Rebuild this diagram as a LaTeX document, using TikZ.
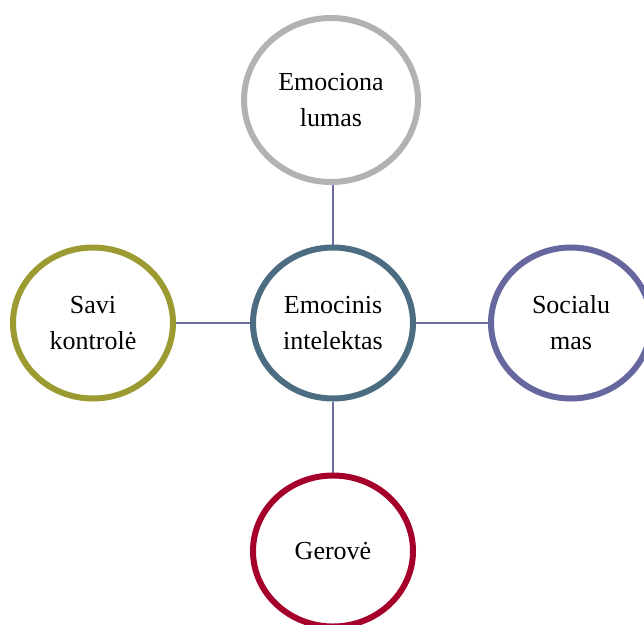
\documentclass[tikz,border=0pt]{standalone}
\usepackage{fontspec}
\setmainfont{Liberation Serif}
\usetikzlibrary{shapes.geometric,backgrounds}

\definecolor{ringgray}{HTML}{B2B2B2}
\definecolor{ringteal}{HTML}{4B6C81}
\definecolor{ringolive}{HTML}{9C9B32}
\definecolor{ringpurple}{HTML}{6767A0}
\definecolor{ringred}{HTML}{A5002A}
\definecolor{linkcol}{HTML}{6C6CA4}

\tikzset{
  ring/.style={ellipse, draw=#1, line width=6pt, fill=white,
    minimum width=160pt, minimum height=151pt, inner sep=0pt,
    align=center, font=\fontsize{26}{36}\selectfont},
  link/.style={draw=linkcol, line width=1.5pt}
}

\begin{document}
\begin{tikzpicture}[x=1pt, y=-1pt]
  \useasboundingbox (0,0) rectangle (644,624);

  \node[ring=ringteal]   (core)  at (333,323) {Emocinis\\intelektas};
  \node[ring=ringgray, minimum width=174pt, minimum height=164pt]
                         (emo)   at (331,100) {Emociona\\lumas};
  \node[ring=ringolive]  (self)  at (93,323)  {Savi\\kontrolė};
  \node[ring=ringpurple] (soc)   at (571,323) {Socialu\\mas};
  \node[ring=ringred]    (well)  at (333,551) {Gerovė};

  \begin{scope}[on background layer]
    \draw[link] (emo.south -| core.north) -- (core.north);
    \draw[link] (self.east) -- (core.west);
    \draw[link] (core.east) -- (soc.west);
    \draw[link] (core.south) -- (well.north);
  \end{scope}
\end{tikzpicture}
\end{document}
